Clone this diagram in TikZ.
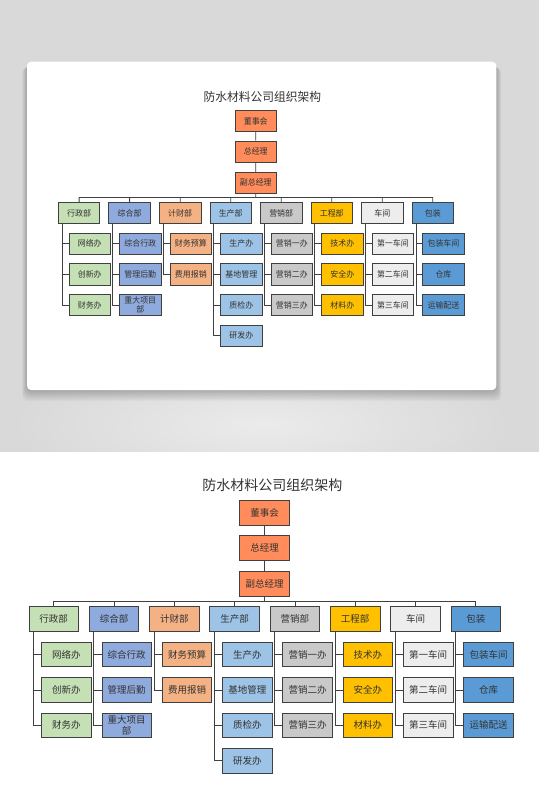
\documentclass[tikz,border=0pt]{standalone}
\usepackage{fontspec}
\newfontfamily\cjk{Noto Sans CJK SC}
\usetikzlibrary{calc}

\definecolor{bggray}{HTML}{D9D9D9}
\definecolor{bglight}{HTML}{EBEBEB}
\definecolor{linegray}{HTML}{404040}
\definecolor{textgray}{HTML}{333333}
\definecolor{topor}{HTML}{FF8C5A}
\definecolor{xzgreen}{HTML}{C5E0B4}
\definecolor{zhblue}{HTML}{8FAADC}
\definecolor{jcorange}{HTML}{F4B183}
\definecolor{scblue}{HTML}{9DC3E6}
\definecolor{yxgray}{HTML}{C9C9C9}
\definecolor{gcyellow}{HTML}{FFC000}
\definecolor{cjwhite}{HTML}{EDEDED}
\definecolor{bzblue}{HTML}{5B9BD5}

\tikzset{
  box/.style={draw=linegray, line width=0.8pt, minimum width=49.5pt, minimum height=24.5pt,
    inner sep=0pt, text=textgray, align=center, font=\cjk\fontsize{9.5}{11}\selectfont},
  conn/.style={draw=linegray, line width=0.8pt},
  charttitle/.style={text=textgray, font=\cjk\fontsize{14}{16}\selectfont}
}

% one copy of the chart, node names start with #1
\newcommand{\orgchart}[1]{%
  \node[charttitle] (#1title) at (272.4,-485) {防水材料公司组织架构};
  \node[box, fill=topor] (#1bd) at (264.5,-512.9) {董事会};
  \node[box, fill=topor] (#1gm) at (264.5,-548) {总经理};
  \node[box, fill=topor] (#1vp) at (264.5,-584) {副总经理};
  \coordinate (#1bus) at (264.5,-601);
  \draw[conn] (#1bd) -- (#1gm);
  \draw[conn] (#1gm) -- (#1vp);
  \draw[conn] (#1vp) -- (#1bus);
  %
  \foreach \i/\nm/\col in {1/行政部/xzgreen, 2/综合部/zhblue, 3/计财部/jcorange, 4/生产部/scblue,
      5/营销部/yxgray, 6/工程部/gcyellow, 7/车间/cjwhite, 8/包装/bzblue} {
    \node[box, fill=\col] (#1d\i) at ({53.7+60.3*(\i-1)},-619) {\nm};
    \draw[conn] (#1bus -| #1d\i) -- (#1d\i);
  }
  \draw[conn] (#1bus -| #1d1) -- (#1bus -| #1d8);
  %
  \foreach \i/\j/\col/\nm in {1/1/xzgreen/网络办, 1/2/xzgreen/创新办, 1/3/xzgreen/财务办,
      2/1/zhblue/综合行政, 2/2/zhblue/管理后勤, 2/3/zhblue/{重大项目\\部},
      3/1/jcorange/财务预算, 3/2/jcorange/费用报销,
      4/1/scblue/生产办, 4/2/scblue/基地管理, 4/3/scblue/质检办, 4/4/scblue/研发办,
      5/1/yxgray/营销一办, 5/2/yxgray/营销二办, 5/3/yxgray/营销三办,
      6/1/gcyellow/技术办, 6/2/gcyellow/安全办, 6/3/gcyellow/材料办,
      7/1/cjwhite/第一车间, 7/2/cjwhite/第二车间, 7/3/cjwhite/第三车间,
      8/1/bzblue/包装车间, 8/2/bzblue/仓库, 8/3/bzblue/运输配送} {
    \node[box, fill=\col] (#1s\i\j) at ({66.4+60.3*(\i-1)},{-654.5-35.4*(\j-1)}) {\nm};
    \draw[conn] ($(#1d\i.south west)+(5,0)$) |- (#1s\i\j.west);
  }
}

\begin{document}
\begin{tikzpicture}[x=1pt,y=1pt]
  \useasboundingbox (0,0) rectangle (539,-812);
  \fill[white] (0,0) rectangle (539,-812);
  % grey preview band
  \begin{scope}
    \clip (0,0) rectangle (539,-451.7);
    \fill[bggray] (0,0) rectangle (539,-451.7);
    \shade[inner color=bglight, outer color=bggray] (262,-425) ellipse (250 and 70);
    \foreach \k in {1,...,10}
      \fill[black, opacity=0.022, rounded corners=6pt]
        (27-0.5*\k,-63.5-0.4*\k) rectangle (496.3+0.5*\k,-390-1.1*\k);
  \end{scope}
  \fill[white, rounded corners=4pt] (27,-61.7) rectangle (496.3,-390);
  % small copy on the card
  \begin{scope}[shift={(34.1,322.4)}, xscale=0.838, yscale=0.865, transform shape]
    \orgchart{a}
  \end{scope}
  % full chart
  \orgchart{b}
\end{tikzpicture}
\end{document}
